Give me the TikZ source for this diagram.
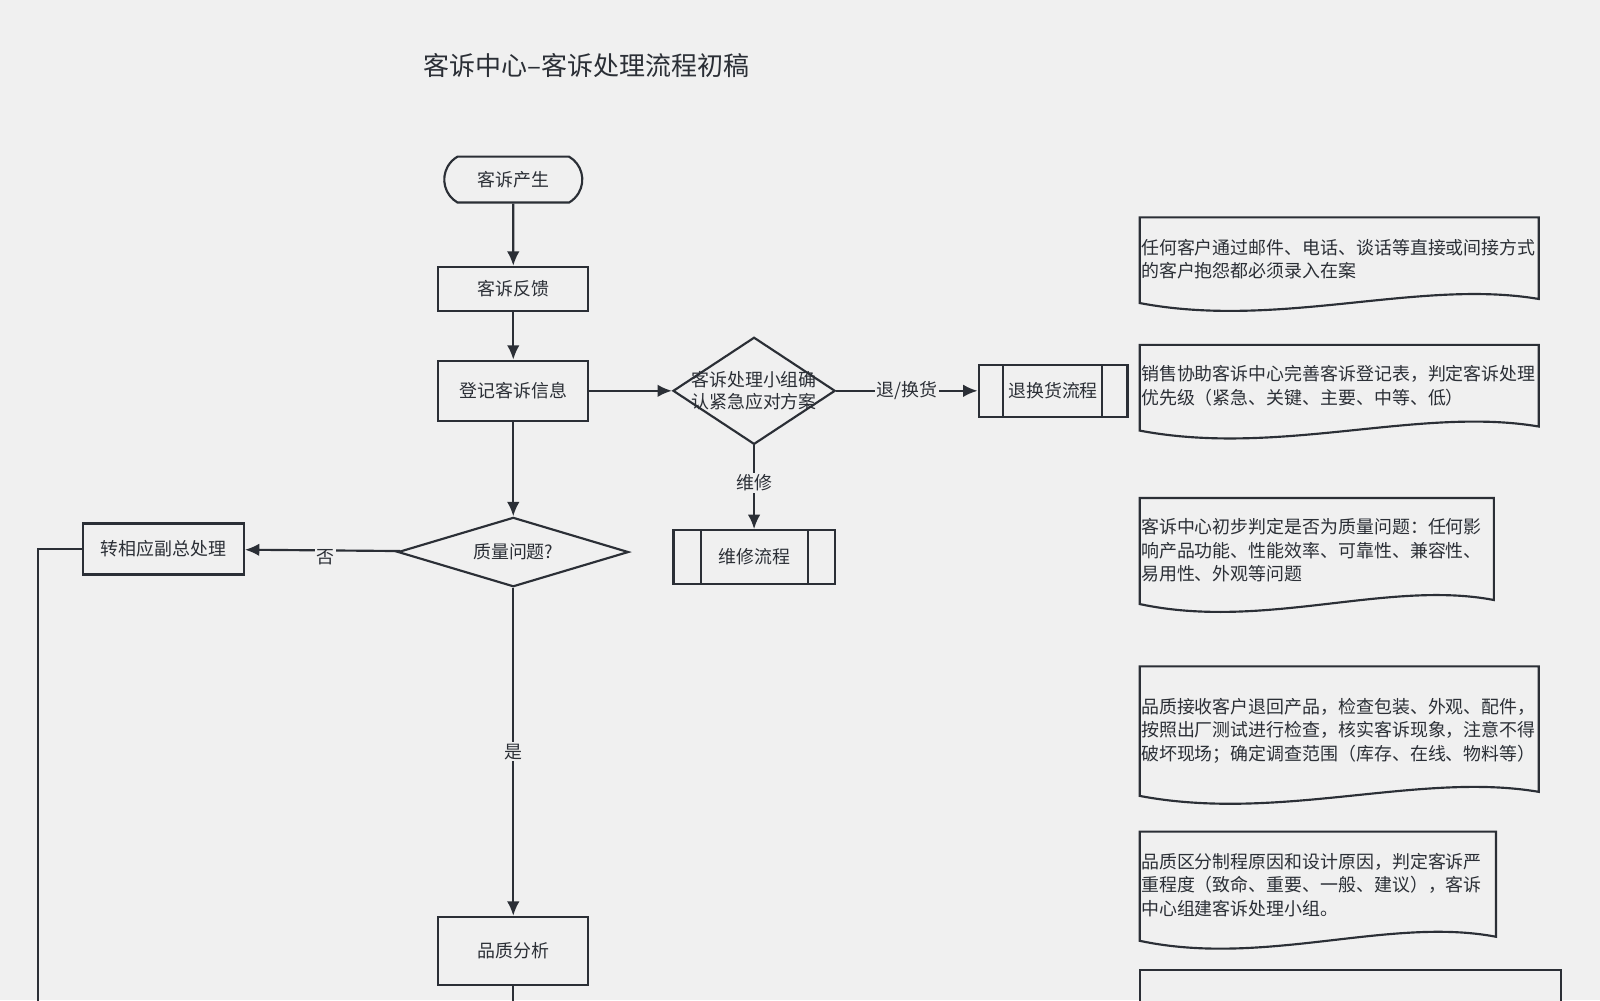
\documentclass[tikz,border=0pt]{standalone}
\usepackage{fontspec}
\setmainfont{Noto Sans CJK SC}
\usetikzlibrary{arrows.meta,shapes.geometric,shapes.misc}
\definecolor{ln}{HTML}{2B2F36}
\definecolor{bg}{HTML}{F0F0F0}
\begin{document}
\begin{tikzpicture}[x=0.02cm,y=-0.02cm,
  box/.style={draw=ln,line width=1.2pt,fill=bg,minimum width=2.94cm,font=\fontsize{10}{12}\selectfont,text=ln},
  dia/.style={draw=ln,line width=1.2pt,fill=bg,diamond,aspect=1.5,inner sep=0pt,font=\fontsize{10}{12}\selectfont,text=ln},
  arr/.style={draw=ln,line width=1.2pt,-{Latex[length=8pt,width=7pt]}},
  ln/.style={draw=ln,line width=1.2pt},
  lab/.style={fill=bg,inner sep=1pt,font=\fontsize{10}{12}\selectfont,text=ln},
  doc/.style={draw=ln,line width=1.2pt},
  dt/.style={anchor=north west,align=left,inner sep=0pt,font=\fontsize{10}{13}\selectfont,text=ln}]
\useasboundingbox (0,0) rectangle (1568,980);
\fill[bg] (0,0) rectangle (1568,980);
\clip (0,0) rectangle (1568,980);
\node[text=ln,font=\fontsize{14.5}{16}\selectfont] (title) at (575,64) {客诉中心–客诉处理流程初稿};
\node[box,rounded rectangle,rounded rectangle arc length=120,minimum height=0.9cm] (start) at (503,176) {客诉产生};
\node[box,minimum height=0.86cm] (fk) at (503,283) {客诉反馈};
\node[box,minimum height=1.18cm] (dj) at (503,383) {登记客诉信息};
\node[dia,minimum width=3.18cm,minimum height=2.1cm,aspect=1.5] (d1) at (739,383) {};
\node[text=ln,font=\fontsize{10}{12}\selectfont,align=center] (d1t) at (739,383) {客诉处理小组确\\认紧急应对方案};
\node[box,minimum width=2.92cm,minimum height=1.02cm] (th) at (1032,383) {退换货流程};
\draw[ln] (983,358) -- (983,409) (1080,358) -- (1080,409);
\node[box,minimum width=3.16cm,minimum height=1.06cm] (wx) at (739,546) {维修流程};
\draw[ln] (687,520) -- (687,573) (792,520) -- (792,573);
\node[dia,minimum width=4.52cm,minimum height=1.36cm,aspect=3.3] (zl) at (503,541) {质量问题?};
\node[box,minimum width=3.16cm,minimum height=1cm] (zx) at (160,538) {转相应副总处理};
\node[box,minimum height=1.34cm] (pz) at (503,932) {品质分析};
\coordinate (c1) at (37,538);
\coordinate (c2) at (37,990);
\coordinate (c3) at (503,990);
\draw[arr] (start) -- (fk);
\draw[arr] (fk) -- (dj);
\draw[arr] (dj) -- (d1);
\draw[arr] (d1) -- node[lab]{退/换货} (th);
\draw[arr] (d1) -- node[lab,pos=0.45]{维修} (wx);
\draw[arr] (dj) -- (zl);
\draw[arr] (zl) -- node[lab,pos=0.48,yshift=-4pt]{否} (zx);
\draw[arr] (zl) -- node[lab]{是} (pz);
\draw[ln] (zx.west) -- (c1) -- (c2);
\draw[ln] (pz) -- (c3);
\foreach \xa/\xb/\ya/\yb [count=\i] in {1117/1508/213/293, 1117/1508/338/418, 1117/1464/488/588, 1117/1508/653/776, 1117/1466/815/918}{
  \pgfmathsetmacro{\w}{\xb-\xa}
  \draw[doc,fill=bg] (\xa,\ya) -- (\xb,\ya) -- (\xb,\yb) .. controls (\xb-0.3*\w,\yb-20) and (\xa+0.35*\w,\yb+30) .. (\xa,\yb+4) -- cycle;
}
\node[dt] (t1) at (1118,234) {任何客户通过邮件、电话、谈话等直接或间接方式\\的客户抱怨都必须录入在案};
\node[dt] (t2) at (1118,358) {销售协助客诉中心完善客诉登记表，判定客诉处理\\优先级（紧急、关键、主要、中等、低）};
\node[dt] (t3) at (1118,508) {客诉中心初步判定是否为质量问题：任何影\\响产品功能、性能效率、可靠性、兼容性、\\易用性、外观等问题};
\node[dt] (t4) at (1118,684) {品质接收客户退回产品，检查包装、外观、配件，\\按照出厂测试进行检查，核实客诉现象，注意不得\\破坏现场；确定调查范围（库存、在线、物料等）};
\node[dt] (t5) at (1118,836) {品质区分制程原因和设计原因，判定客诉严\\重程度（致命、重要、一般、建议），客诉\\中心组建客诉处理小组。};
\draw[doc,fill=bg] (1117,990) -- (1117,951) -- (1530,951) -- (1530,990);
\end{tikzpicture}
\end{document}
